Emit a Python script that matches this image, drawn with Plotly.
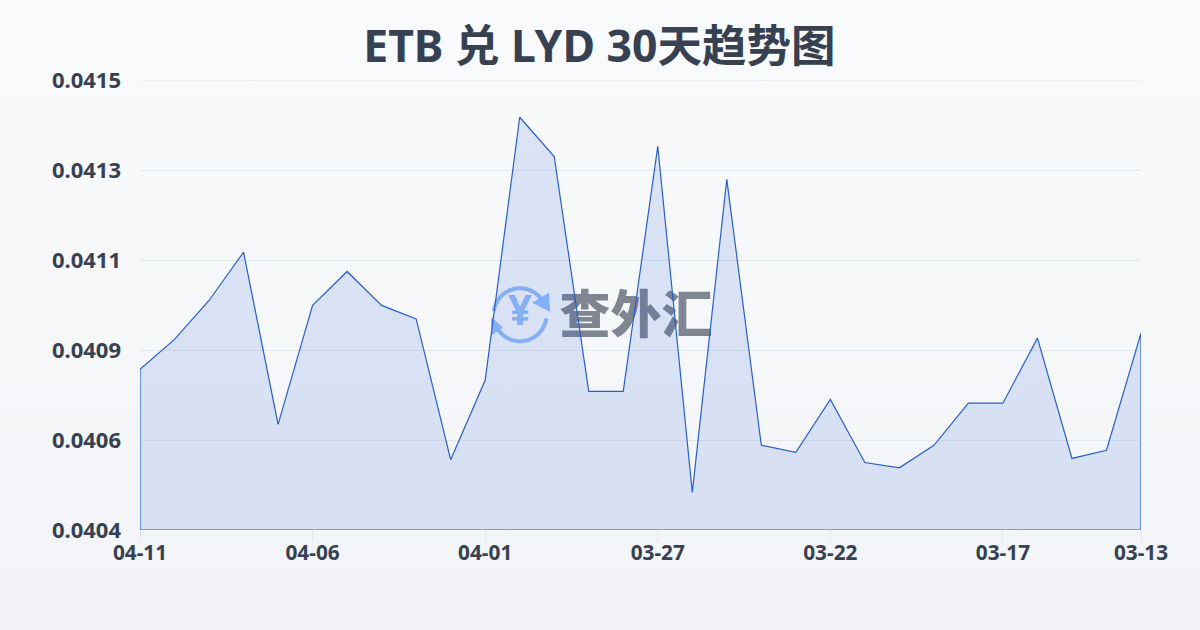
import numpy as np
import plotly.graph_objects as go

dates = ["04-11","04-10","04-09","04-08","04-07","04-06","04-05","04-04","04-03","04-02",
         "04-01","03-31","03-30","03-29","03-28","03-27","03-26","03-25","03-24","03-23",
         "03-22","03-21","03-20","03-19","03-18","03-17","03-16","03-15","03-14","03-13"]
rates = [0.040803,0.040876,0.040971,0.041089,0.040668,0.040959,0.041042,0.040959,0.040926,0.040582,
         0.040776,0.041419,0.041323,0.040749,0.040749,0.041348,0.040502,0.041267,0.040617,0.040600,
         0.040729,0.040575,0.040562,0.040617,0.040720,0.040720,0.040879,0.040585,0.040605,0.040891]
y_ticks = [0.04041,0.04063,0.04085,0.04107,0.04129,0.04151]
y_labels = ["0.0404","0.0406","0.0409","0.0411","0.0413","0.0415"]
x_tick_labels = ["04-11","04-06","04-01","03-27","03-22","03-17","03-13"]
title = "ETB 兑 LYD 30天趋势图"
brand = "查外汇"

INK = "#374151"
LINE = "#2b5fc7"
BLUE = "#93bbfb"
GRID = "#e2e8f0"
L, R, T, B = 140, 1141, 80, 530.5
xs = list(range(len(dates)))
lo, hi = y_ticks[0], y_ticks[-1]

def px(x): return (x - L) / (R - L)
def py(y): return (B - y) / (B - T)
def dx(x): return (x - L) / (R - L) * (len(dates) - 1)
def dy(y): return lo + (B - y) / (B - T) * (hi - lo)

def arc(cx, cy, r, a0, a1, n=40):
    a = np.radians(np.linspace(a0, a1, n))
    pts = [(cx + r*np.cos(t), cy - r*np.sin(t)) for t in a]
    return "M " + " L ".join(f"{px(x):.5f},{py(y):.5f}" for x, y in pts)

def tri(pts):
    return "M " + " L ".join(f"{px(x):.5f},{py(y):.5f}" for x, y in pts) + " Z"

shapes = [
    dict(type="line", xref="paper", yref="y", x0=0, x1=1, y0=hi, y1=hi, layer="below",
         line=dict(color=GRID, width=1)),
    dict(type="path", xref="paper", yref="paper", layer="below", path=arc(520,315,26.5,172,28),
         line=dict(color=BLUE, width=4)),
    dict(type="path", xref="paper", yref="paper", layer="below", path=arc(520,315,26.5,-8,-150),
         line=dict(color=BLUE, width=4)),
    dict(type="path", xref="paper", yref="paper", layer="below", path=tri([(549,293),(550,312),(532,303)]),
         fillcolor=BLUE, line=dict(width=0)),
    dict(type="path", xref="paper", yref="paper", layer="below", path=tri([(491,317),(491,336),(503,328)]),
         fillcolor=BLUE, line=dict(width=0)),
]

fig = go.Figure()
fig.add_trace(go.Scatter(x=[dx(636)], y=[dy(321)], text=[brand], mode="text", hoverinfo="skip",
                         textposition="middle center",
                         textfont=dict(family="Noto Sans CJK SC", size=51, color="#7f8591", weight=900)))
fig.add_trace(go.Scatter(x=[dx(520)], y=[dy(315)], text=["¥"], mode="text", hoverinfo="skip",
                         textposition="middle center",
                         textfont=dict(family="Noto Sans", size=42, color=BLUE, weight=700)))
fig.add_trace(go.Scatter(x=xs + [xs[-1], xs[0], xs[0]], y=rates + [lo, lo, rates[0]],
                         mode="lines", fill="toself", fillcolor="rgba(40,90,215,0.135)",
                         line=dict(color=LINE, width=1.2), cliponaxis=False))

tick_idx = [dates.index(d) for d in x_tick_labels]
fig.update_layout(
    width=1200, height=630, showlegend=False,
    paper_bgcolor="rgba(0,0,0,0)", plot_bgcolor="rgba(0,0,0,0)",
    margin=dict(l=L, r=1200-R, t=T, b=630-B, pad=0),
    title=dict(text=title, x=0.4995, xanchor="center", xref="container", y=1-46/630, yanchor="middle",
               font=dict(family="Noto Sans, Noto Sans CJK SC", size=44.5, color=INK, weight=700)),
    xaxis=dict(range=[0, len(dates)-1], tickmode="array", tickvals=tick_idx, ticktext=x_tick_labels,
               showgrid=False, zeroline=False, showline=False, ticks="outside", ticklen=10, tickwidth=1,
               tickcolor=GRID, ticklabelstandoff=-6,
               tickfont=dict(family="Noto Sans", size=20.8, color=INK, weight=700)),
    yaxis=dict(range=[lo, hi], tickmode="array", tickvals=y_ticks, ticktext=y_labels,
               showgrid=True, gridcolor=GRID, gridwidth=1, zeroline=False, showline=False,
               ticks="", ticklabelstandoff=18,
               tickfont=dict(family="Noto Sans", size=22, color=INK, weight=700)),
    shapes=shapes,
)
fig.write_html("out.html", config={"displayModeBar": False},
               post_script="document.documentElement.style.height='100%';"
                           "document.body.style.margin='0';document.body.style.overflow='hidden';"
                           "document.body.style.height='630px';"
                           "document.body.style.background='linear-gradient(180deg,#f8fafb,#f2f4f7)';")
